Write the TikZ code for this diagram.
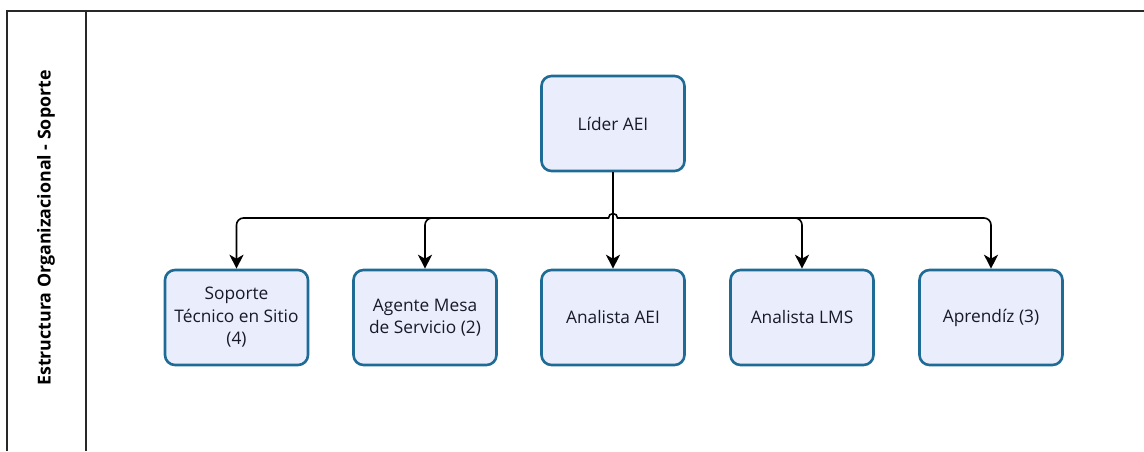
\documentclass[tikz,border=0pt]{standalone}
\usepackage{fontspec}
\setmainfont{Open Sans}
\usetikzlibrary{arrows.meta}
\definecolor{boxfill}{RGB}{233,237,252}
\definecolor{boxline}{RGB}{30,108,150}
\definecolor{framecol}{RGB}{40,40,40}
\definecolor{txt}{RGB}{25,25,40}
\tikzset{
  role/.style={draw=boxline, fill=boxfill, line width=2.6pt, rounded corners=10pt,
    minimum width=143pt, minimum height=95pt, align=center, text=txt,
    font=\fontsize{17.3}{22.5}\selectfont, inner sep=2pt},
  conn/.style={line width=1.6pt, black, rounded corners=7pt,
    -{Stealth[length=14pt,width=14pt,inset=4pt]}},
  framing/.style={line width=1.6pt, framecol}
}
\begin{document}
\begin{tikzpicture}[x=1pt,y=-1pt]
\useasboundingbox (0,0) rectangle (1144,451);
% swimlane frame with its title column
\draw[framing] (7,451) -- (7,11) -- (1144,11);
\draw[framing] (86,11) -- (86,451);
\node[rotate=90, font=\bfseries\fontsize{17.8}{20}\selectfont, text=black] (lane) at (46,228)
  {Estructura Organizacional - Soporte};
% roles
\node[role] (lider) at (613,123.5) {Líder AEI};
\node[role] (sts) at (236.5,317.5) {Soporte\\Técnico en Sitio\\(4)};
\node[role] (ams) at (425,317.5) {Agente Mesa\\de Servicio (2)};
\node[role] (aae) at (613,317.5) {Analista AEI};
\node[role] (lms) at (802,317.5) {Analista LMS};
\node[role] (apr) at (991,317.5) {Aprendíz (3)};
% branch point on the trunk below the leader
\coordinate (bus) at (613,218);
% branches from the trunk to the side roles
\foreach \c in {sts,ams,lms,apr}
  \draw[conn] (bus) -| (\c.north);
% line jump where the bus crosses the trunk
\fill[white] (606.5,214) rectangle (619.5,222);
\draw[conn] (lider.south) -- (aae.north);
\draw[line width=1.6pt] (606,218) -- (608.5,218) arc (180:0:4.5pt) -- (620,218);
\end{tikzpicture}
\end{document}
